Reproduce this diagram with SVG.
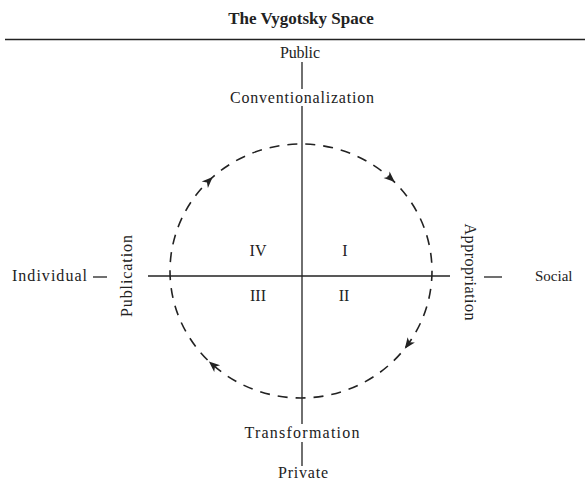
<svg xmlns="http://www.w3.org/2000/svg" width="585" height="487" viewBox="0 0 585 487">
<style>
text{font-family:"Liberation Serif","DejaVu Serif",serif;fill:#222;font-size:16px;}
.t{text-anchor:middle;}
.ax{stroke:#222;stroke-width:1.3;fill:none;}
.cyc{stroke:#222;stroke-width:1.6;fill:none;stroke-dasharray:10 8;}
.ah{fill:#222;}
</style>
<defs>
<polygon id="head" points="6,0 -5,-4.5 -2,0 -5,4.5"/>
</defs>
<rect width="585" height="487" fill="#fff"/>
<g id="title">
<text x="301" y="24" style="font-size:17px;font-weight:bold;text-anchor:middle">The Vygotsky Space</text>
<line x1="5" y1="39.5" x2="585" y2="39.5" stroke="#222" stroke-width="1.3"/>
</g>
<g id="connectors">
<line class="ax" x1="302" y1="62" x2="302" y2="89"/>
<line class="ax" x1="302" y1="106" x2="302" y2="424"/>
<line class="ax" x1="302" y1="442" x2="302" y2="466"/>
<line class="ax" x1="148" y1="276" x2="450" y2="276"/>
<line class="ax" x1="93" y1="277" x2="107" y2="277"/>
<line class="ax" x1="484" y1="277" x2="502" y2="277"/>
<ellipse class="cyc" cx="301" cy="271" rx="131" ry="127"/>
<use href="#head" class="ah" transform="translate(208.4,181.2) rotate(-44)"/>
<use href="#head" class="ah" transform="translate(390.3,178.1) rotate(42)"/>
<use href="#head" class="ah" transform="translate(408.3,343.9) rotate(126)"/>
<use href="#head" class="ah" transform="translate(213.4,365.4) rotate(221)"/>
</g>
<g id="public"><text class="t" x="300" y="58" textLength="40" lengthAdjust="spacing">Public</text></g>
<g id="conventionalization"><text class="t" x="302" y="103" textLength="144" lengthAdjust="spacing">Conventionalization</text></g>
<g id="transformation"><text class="t" x="302" y="438" textLength="115" lengthAdjust="spacing">Transformation</text></g>
<g id="private"><text class="t" x="303" y="478" textLength="50" lengthAdjust="spacing">Private</text></g>
<g id="individual"><text x="12" y="281" textLength="75" lengthAdjust="spacing">Individual</text></g>
<g id="social"><text x="535" y="281" style="font-size:15px">Social</text></g>
<g id="publication"><text class="t" transform="translate(132,276) rotate(-90)" textLength="82" lengthAdjust="spacing">Publication</text></g>
<g id="appropriation"><text class="t" transform="translate(465,272) rotate(90)" textLength="97" lengthAdjust="spacing">Appropriation</text></g>
<g id="q4"><text class="t" x="258" y="256">IV</text></g>
<g id="q1"><text class="t" x="345" y="256">I</text></g>
<g id="q3"><text class="t" x="258" y="301">III</text></g>
<g id="q2"><text class="t" x="344" y="301">II</text></g>
</svg>
